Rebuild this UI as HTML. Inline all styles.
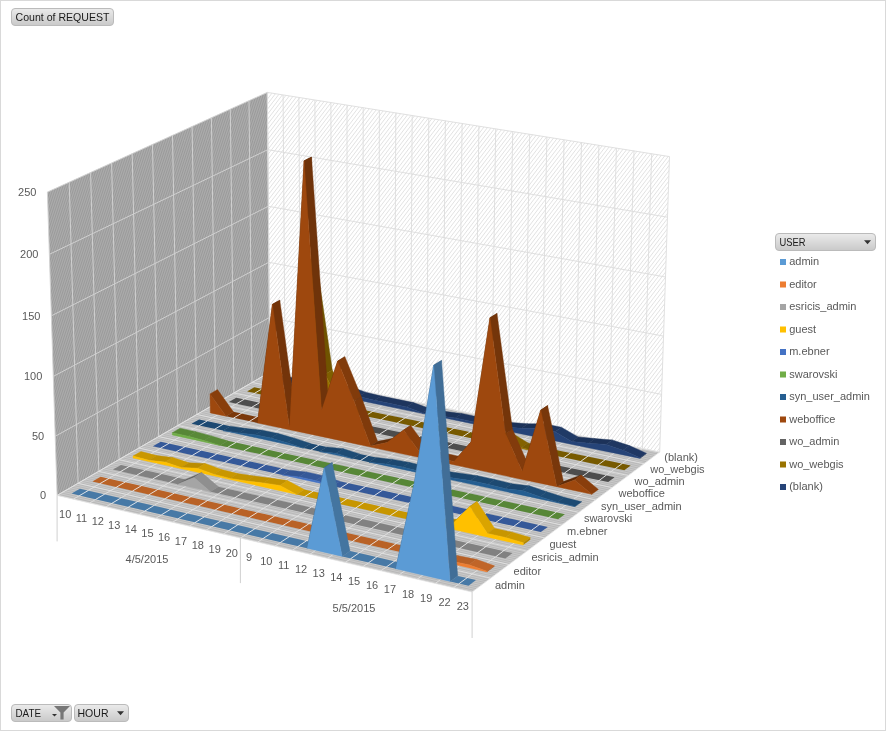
<!DOCTYPE html>
<html><head><meta charset="utf-8"><title>Count of REQUEST</title>
<style>html,body{margin:0;padding:0;background:#fff;}body{width:886px;height:731px;position:relative;overflow:hidden;font-family:"Liberation Sans",sans-serif;}</style>
</head><body>
<svg width="886" height="731" viewBox="0 0 886 731" style="position:absolute;left:0;top:0">
<defs>
<pattern id="hw" width="23.0" height="70.0" patternUnits="userSpaceOnUse"><rect width="23.0" height="70.0" fill="#ABABAB"/><path d="M-0.46,8.40 L2.76,-1.40 M-0.46,15.40 L5.06,-1.40 M-0.46,22.40 L7.36,-1.40 M-0.46,29.40 L9.66,-1.40 M-0.46,36.40 L11.96,-1.40 M-0.46,43.40 L14.26,-1.40 M-0.46,50.40 L16.56,-1.40 M-0.46,57.40 L18.86,-1.40 M-0.46,64.40 L21.16,-1.40 M-0.46,71.40 L23.46,-1.40 M-0.46,78.40 L25.76,-1.40 M-0.46,85.40 L28.06,-1.40 M-0.46,92.40 L30.36,-1.40 M-0.46,99.40 L32.66,-1.40 M-0.46,106.40 L34.96,-1.40 M-0.46,113.40 L37.26,-1.40 M-0.46,120.40 L39.56,-1.40 M-0.46,127.40 L41.86,-1.40 M-0.46,134.40 L44.16,-1.40 M-0.46,141.40 L46.46,-1.40 " stroke="#9A9A9A" stroke-width="1.0" fill="none"/></pattern>
<pattern id="hb" width="39.0" height="51.0" patternUnits="userSpaceOnUse"><rect width="39.0" height="51.0" fill="#FFFFFF"/><path d="M-0.78,6.12 L4.68,-1.02 M-0.78,11.22 L8.58,-1.02 M-0.78,16.32 L12.48,-1.02 M-0.78,21.42 L16.38,-1.02 M-0.78,26.52 L20.28,-1.02 M-0.78,31.62 L24.18,-1.02 M-0.78,36.72 L28.08,-1.02 M-0.78,41.82 L31.98,-1.02 M-0.78,46.92 L35.88,-1.02 M-0.78,52.02 L39.78,-1.02 M-0.78,57.12 L43.68,-1.02 M-0.78,62.22 L47.58,-1.02 M-0.78,67.32 L51.48,-1.02 M-0.78,72.42 L55.38,-1.02 M-0.78,77.52 L59.28,-1.02 M-0.78,82.62 L63.18,-1.02 M-0.78,87.72 L67.08,-1.02 M-0.78,92.82 L70.98,-1.02 M-0.78,97.92 L74.88,-1.02 M-0.78,103.02 L78.78,-1.02 " stroke="#DADADA" stroke-width="0.8" fill="none"/></pattern>
<pattern id="hf" width="2" height="2" patternUnits="userSpaceOnUse" patternTransform="rotate(13)"><rect width="2" height="2" fill="#C9C9C9"/><rect width="2" height="1" fill="#B8B8B8"/></pattern>
<linearGradient id="bg" x1="0" y1="0" x2="0" y2="1"><stop offset="0" stop-color="#EBEBEB"/><stop offset="0.5" stop-color="#DADADA"/><stop offset="1" stop-color="#C9C9C9"/></linearGradient>
</defs>
<polygon points="57.1,495.4 269.8,372.2 267.3,92.4 47.4,192.1" fill="url(#hw)"/>
<polygon points="269.8,372.2 659.7,452.1 669.5,156.6 267.3,92.4" fill="url(#hb)"/>
<polygon points="57.1,495.4 269.8,372.2 659.7,452.1 472.1,592.0" fill="url(#hf)"/>
<line x1="57.1" y1="495.4" x2="269.8" y2="372.2" stroke="#D2D2D2" stroke-width="0.95"/>
<line x1="269.8" y1="372.2" x2="659.7" y2="452.1" stroke="#DCDCDC" stroke-width="0.9"/>
<line x1="55.2" y1="436.3" x2="269.3" y2="317.6" stroke="#D2D2D2" stroke-width="0.95"/>
<line x1="269.3" y1="317.6" x2="661.6" y2="394.4" stroke="#DCDCDC" stroke-width="0.9"/>
<line x1="53.3" y1="376.4" x2="268.8" y2="262.3" stroke="#D2D2D2" stroke-width="0.95"/>
<line x1="268.8" y1="262.3" x2="663.5" y2="336.1" stroke="#DCDCDC" stroke-width="0.9"/>
<line x1="51.4" y1="315.8" x2="268.3" y2="206.3" stroke="#D2D2D2" stroke-width="0.95"/>
<line x1="268.3" y1="206.3" x2="665.5" y2="277.0" stroke="#DCDCDC" stroke-width="0.9"/>
<line x1="49.4" y1="254.3" x2="267.8" y2="149.7" stroke="#D2D2D2" stroke-width="0.95"/>
<line x1="267.8" y1="149.7" x2="667.5" y2="217.2" stroke="#DCDCDC" stroke-width="0.9"/>
<line x1="47.4" y1="192.1" x2="267.3" y2="92.4" stroke="#D2D2D2" stroke-width="0.95"/>
<line x1="267.3" y1="92.4" x2="669.5" y2="156.6" stroke="#DCDCDC" stroke-width="0.9"/>
<line x1="57.1" y1="495.4" x2="47.4" y2="192.1" stroke="#D2D2D2" stroke-width="0.95"/>
<line x1="57.1" y1="495.4" x2="472.1" y2="592.0" stroke="#E6E6E6" stroke-width="0.8"/>
<line x1="78.1" y1="483.3" x2="69.2" y2="182.2" stroke="#D2D2D2" stroke-width="0.95"/>
<line x1="78.1" y1="483.3" x2="490.7" y2="578.1" stroke="#E6E6E6" stroke-width="0.8"/>
<line x1="98.8" y1="471.3" x2="90.6" y2="172.5" stroke="#D2D2D2" stroke-width="0.95"/>
<line x1="98.8" y1="471.3" x2="509.0" y2="564.5" stroke="#E6E6E6" stroke-width="0.8"/>
<line x1="119.1" y1="459.6" x2="111.6" y2="163.0" stroke="#D2D2D2" stroke-width="0.95"/>
<line x1="119.1" y1="459.6" x2="526.9" y2="551.1" stroke="#E6E6E6" stroke-width="0.8"/>
<line x1="139.0" y1="448.0" x2="132.2" y2="153.6" stroke="#D2D2D2" stroke-width="0.95"/>
<line x1="139.0" y1="448.0" x2="544.6" y2="537.9" stroke="#E6E6E6" stroke-width="0.8"/>
<line x1="158.6" y1="436.6" x2="152.5" y2="144.5" stroke="#D2D2D2" stroke-width="0.95"/>
<line x1="158.6" y1="436.6" x2="561.9" y2="525.0" stroke="#E6E6E6" stroke-width="0.8"/>
<line x1="177.9" y1="425.5" x2="172.5" y2="135.4" stroke="#D2D2D2" stroke-width="0.95"/>
<line x1="177.9" y1="425.5" x2="578.9" y2="512.3" stroke="#E6E6E6" stroke-width="0.8"/>
<line x1="196.9" y1="414.5" x2="192.1" y2="126.5" stroke="#D2D2D2" stroke-width="0.95"/>
<line x1="196.9" y1="414.5" x2="595.6" y2="499.8" stroke="#E6E6E6" stroke-width="0.8"/>
<line x1="215.6" y1="403.7" x2="211.4" y2="117.8" stroke="#D2D2D2" stroke-width="0.95"/>
<line x1="215.6" y1="403.7" x2="612.1" y2="487.6" stroke="#E6E6E6" stroke-width="0.8"/>
<line x1="233.9" y1="393.0" x2="230.3" y2="109.2" stroke="#D2D2D2" stroke-width="0.95"/>
<line x1="233.9" y1="393.0" x2="628.2" y2="475.5" stroke="#E6E6E6" stroke-width="0.8"/>
<line x1="252.0" y1="382.5" x2="249.0" y2="100.8" stroke="#D2D2D2" stroke-width="0.95"/>
<line x1="252.0" y1="382.5" x2="644.1" y2="463.7" stroke="#E6E6E6" stroke-width="0.8"/>
<line x1="269.8" y1="372.2" x2="267.3" y2="92.4" stroke="#D2D2D2" stroke-width="0.95"/>
<line x1="269.8" y1="372.2" x2="659.7" y2="452.1" stroke="#E6E6E6" stroke-width="0.8"/>
<line x1="269.8" y1="372.2" x2="267.3" y2="92.4" stroke="#DCDCDC" stroke-width="0.9"/>
<line x1="57.1" y1="495.4" x2="269.8" y2="372.2" stroke="#E6E6E6" stroke-width="0.8"/>
<line x1="285.1" y1="375.4" x2="283.1" y2="95.0" stroke="#DCDCDC" stroke-width="0.9"/>
<line x1="73.3" y1="499.2" x2="285.1" y2="375.4" stroke="#E6E6E6" stroke-width="0.8"/>
<line x1="300.5" y1="378.5" x2="298.9" y2="97.5" stroke="#DCDCDC" stroke-width="0.9"/>
<line x1="89.6" y1="503.0" x2="300.5" y2="378.5" stroke="#E6E6E6" stroke-width="0.8"/>
<line x1="316.0" y1="381.7" x2="314.9" y2="100.0" stroke="#DCDCDC" stroke-width="0.9"/>
<line x1="106.0" y1="506.8" x2="316.0" y2="381.7" stroke="#E6E6E6" stroke-width="0.8"/>
<line x1="331.5" y1="384.9" x2="330.9" y2="102.6" stroke="#DCDCDC" stroke-width="0.9"/>
<line x1="122.5" y1="510.7" x2="331.5" y2="384.9" stroke="#E6E6E6" stroke-width="0.8"/>
<line x1="347.1" y1="388.1" x2="347.0" y2="105.1" stroke="#DCDCDC" stroke-width="0.9"/>
<line x1="139.1" y1="514.5" x2="347.1" y2="388.1" stroke="#E6E6E6" stroke-width="0.8"/>
<line x1="362.9" y1="391.3" x2="363.2" y2="107.7" stroke="#DCDCDC" stroke-width="0.9"/>
<line x1="155.7" y1="518.4" x2="362.9" y2="391.3" stroke="#E6E6E6" stroke-width="0.8"/>
<line x1="378.6" y1="394.5" x2="379.4" y2="110.3" stroke="#DCDCDC" stroke-width="0.9"/>
<line x1="172.5" y1="522.3" x2="378.6" y2="394.5" stroke="#E6E6E6" stroke-width="0.8"/>
<line x1="394.5" y1="397.8" x2="395.8" y2="112.9" stroke="#DCDCDC" stroke-width="0.9"/>
<line x1="189.3" y1="526.2" x2="394.5" y2="397.8" stroke="#E6E6E6" stroke-width="0.8"/>
<line x1="410.4" y1="401.0" x2="412.2" y2="115.5" stroke="#DCDCDC" stroke-width="0.9"/>
<line x1="206.2" y1="530.1" x2="410.4" y2="401.0" stroke="#E6E6E6" stroke-width="0.8"/>
<line x1="426.5" y1="404.3" x2="428.8" y2="118.2" stroke="#DCDCDC" stroke-width="0.9"/>
<line x1="223.3" y1="534.1" x2="426.5" y2="404.3" stroke="#E6E6E6" stroke-width="0.8"/>
<line x1="442.6" y1="407.6" x2="445.4" y2="120.8" stroke="#DCDCDC" stroke-width="0.9"/>
<line x1="240.4" y1="538.1" x2="442.6" y2="407.6" stroke="#E6E6E6" stroke-width="0.8"/>
<line x1="458.8" y1="410.9" x2="462.1" y2="123.5" stroke="#DCDCDC" stroke-width="0.9"/>
<line x1="257.6" y1="542.1" x2="458.8" y2="410.9" stroke="#E6E6E6" stroke-width="0.8"/>
<line x1="475.0" y1="414.3" x2="478.9" y2="126.2" stroke="#DCDCDC" stroke-width="0.9"/>
<line x1="274.9" y1="546.1" x2="475.0" y2="414.3" stroke="#E6E6E6" stroke-width="0.8"/>
<line x1="491.4" y1="417.6" x2="495.7" y2="128.9" stroke="#DCDCDC" stroke-width="0.9"/>
<line x1="292.4" y1="550.2" x2="491.4" y2="417.6" stroke="#E6E6E6" stroke-width="0.8"/>
<line x1="507.8" y1="421.0" x2="512.7" y2="131.6" stroke="#DCDCDC" stroke-width="0.9"/>
<line x1="309.9" y1="554.3" x2="507.8" y2="421.0" stroke="#E6E6E6" stroke-width="0.8"/>
<line x1="524.4" y1="424.4" x2="529.7" y2="134.3" stroke="#DCDCDC" stroke-width="0.9"/>
<line x1="327.5" y1="558.4" x2="524.4" y2="424.4" stroke="#E6E6E6" stroke-width="0.8"/>
<line x1="541.0" y1="427.8" x2="546.9" y2="137.0" stroke="#DCDCDC" stroke-width="0.9"/>
<line x1="345.2" y1="562.5" x2="541.0" y2="427.8" stroke="#E6E6E6" stroke-width="0.8"/>
<line x1="557.7" y1="431.2" x2="564.1" y2="139.8" stroke="#DCDCDC" stroke-width="0.9"/>
<line x1="363.0" y1="566.6" x2="557.7" y2="431.2" stroke="#E6E6E6" stroke-width="0.8"/>
<line x1="574.4" y1="434.6" x2="581.5" y2="142.5" stroke="#DCDCDC" stroke-width="0.9"/>
<line x1="380.9" y1="570.8" x2="574.4" y2="434.6" stroke="#E6E6E6" stroke-width="0.8"/>
<line x1="591.3" y1="438.1" x2="598.9" y2="145.3" stroke="#DCDCDC" stroke-width="0.9"/>
<line x1="399.0" y1="575.0" x2="591.3" y2="438.1" stroke="#E6E6E6" stroke-width="0.8"/>
<line x1="608.3" y1="441.5" x2="616.4" y2="148.1" stroke="#DCDCDC" stroke-width="0.9"/>
<line x1="417.1" y1="579.2" x2="608.3" y2="441.5" stroke="#E6E6E6" stroke-width="0.8"/>
<line x1="625.3" y1="445.0" x2="634.0" y2="150.9" stroke="#DCDCDC" stroke-width="0.9"/>
<line x1="435.3" y1="583.4" x2="625.3" y2="445.0" stroke="#E6E6E6" stroke-width="0.8"/>
<line x1="642.5" y1="448.5" x2="651.7" y2="153.7" stroke="#DCDCDC" stroke-width="0.9"/>
<line x1="453.6" y1="587.7" x2="642.5" y2="448.5" stroke="#E6E6E6" stroke-width="0.8"/>
<line x1="659.7" y1="452.1" x2="669.5" y2="156.6" stroke="#DCDCDC" stroke-width="0.9"/>
<line x1="472.1" y1="592.0" x2="659.7" y2="452.1" stroke="#E6E6E6" stroke-width="0.8"/>
<line x1="57.1" y1="495.4" x2="57.1" y2="541.4" stroke="#D0D0D0" stroke-width="1"/>
<line x1="240.4" y1="538.1" x2="240.4" y2="583.1" stroke="#D0D0D0" stroke-width="1"/>
<line x1="472.1" y1="592.0" x2="472.1" y2="638.0" stroke="#D0D0D0" stroke-width="1"/>
<polygon points="265.0,377.7 280.4,380.9 295.9,384.1 311.5,387.3 327.1,390.5 334.1,386.3 318.5,383.1 303.0,379.9 287.5,376.8 272.1,373.6" fill="#1E355E" stroke="#1E355E" stroke-width="0.4"/>
<polygon points="327.1,390.5 342.9,390.4 349.8,386.2 334.1,386.3" fill="#1B3156" stroke="#1B3156" stroke-width="0.4"/>
<polygon points="342.9,390.4 358.7,396.5 365.6,392.2 349.8,386.2" fill="#1F3862" stroke="#1F3862" stroke-width="0.4"/>
<polygon points="358.7,396.5 374.6,400.3 381.4,396.0 365.6,392.2" fill="#1E365F" stroke="#1E365F" stroke-width="0.4"/>
<polygon points="374.6,400.3 390.5,403.6 406.6,406.9 413.4,402.6 397.4,399.3 381.4,396.0" fill="#1E355E" stroke="#1E355E" stroke-width="0.4"/>
<polygon points="406.6,406.9 422.7,413.0 429.5,408.6 413.4,402.6" fill="#1F3862" stroke="#1F3862" stroke-width="0.4"/>
<polygon points="422.7,413.0 438.9,415.8 445.7,411.4 429.5,408.6" fill="#1D345C" stroke="#1D345C" stroke-width="0.4"/>
<polygon points="438.9,415.8 455.2,418.0 461.9,413.6 445.7,411.4" fill="#1D345B" stroke="#1D345B" stroke-width="0.4"/>
<polygon points="455.2,418.0 471.6,421.4 488.1,424.8 494.7,420.3 478.3,417.0 461.9,413.6" fill="#1E355E" stroke="#1E355E" stroke-width="0.4"/>
<polygon points="488.1,424.8 504.7,427.0 511.2,422.6 494.7,420.3" fill="#1D345B" stroke="#1D345B" stroke-width="0.4"/>
<polygon points="504.7,427.0 521.3,428.2 527.9,423.7 511.2,422.6" fill="#1C3259" stroke="#1C3259" stroke-width="0.4"/>
<polygon points="521.3,428.2 538.1,428.2 544.6,423.8 527.9,423.7" fill="#1B3156" stroke="#1B3156" stroke-width="0.4"/>
<polygon points="538.1,428.2 555.0,431.7 561.4,427.2 544.6,423.8" fill="#1E355E" stroke="#1E355E" stroke-width="0.4"/>
<polygon points="555.0,431.7 571.7,441.4 578.1,436.9 561.4,427.2" fill="#203A66" stroke="#203A66" stroke-width="0.4"/>
<polygon points="571.7,441.4 588.8,443.2 595.1,438.6 578.1,436.9" fill="#1C335A" stroke="#1C335A" stroke-width="0.4"/>
<polygon points="588.8,443.2 605.9,444.4 612.3,439.9 595.1,438.6" fill="#1C3259" stroke="#1C3259" stroke-width="0.4"/>
<polygon points="605.9,444.4 623.0,450.3 629.3,445.6 612.3,439.9" fill="#1F3761" stroke="#1F3761" stroke-width="0.4"/>
<polygon points="623.0,450.3 640.1,457.8 646.4,453.2 629.3,445.6" fill="#203864" stroke="#203864" stroke-width="0.4"/>
<polygon points="640.1,458.4 646.4,453.8 646.4,453.2 640.1,457.8" fill="#1B3054"/>
<polygon points="265.0,377.7 280.4,380.9 295.9,384.1 311.5,387.3 327.1,390.5 342.9,390.4 358.7,396.5 374.6,400.3 390.5,403.6 406.6,406.9 422.7,413.0 438.9,415.8 455.2,418.0 471.6,421.4 488.1,424.8 504.7,427.0 521.3,428.2 538.1,428.2 555.0,431.7 571.7,441.4 588.8,443.2 605.9,444.4 623.0,450.3 640.1,457.8 640.1,458.4 265.0,381.0" fill="#264478" stroke="#264478" stroke-width="0.4" stroke-linejoin="round"/>
<polygon points="247.1,391.5 262.6,394.7 278.2,397.9 285.3,393.7 269.8,390.5 254.3,387.3" fill="#775A00"/>
<polygon points="278.2,397.9 293.8,397.9 300.9,393.6 285.3,393.7" fill="#6E5200" stroke="#6E5200" stroke-width="0.4"/>
<polygon points="293.8,397.9 308.9,262.5 316.1,258.6 300.9,393.6" fill="#543F00" stroke="#543F00" stroke-width="0.4"/>
<polygon points="308.9,262.5 325.2,374.3 332.3,370.1 316.1,258.6" fill="#705400" stroke="#705400" stroke-width="0.4"/>
<polygon points="325.2,374.3 341.2,407.8 348.2,403.4 332.3,370.1" fill="#7F5F00" stroke="#7F5F00" stroke-width="0.4"/>
<polygon points="341.2,407.8 357.2,414.4 364.2,410.1 348.2,403.4" fill="#7E5F00" stroke="#7E5F00" stroke-width="0.4"/>
<polygon points="357.2,414.4 373.2,417.8 389.4,421.1 405.6,424.5 421.9,427.9 438.3,431.3 454.7,434.8 471.3,438.2 478.0,433.7 461.5,430.3 445.1,426.9 428.7,423.5 412.5,420.1 396.3,416.8 380.2,413.4 364.2,410.1" fill="#775A00"/>
<polygon points="471.3,438.2 488.0,437.2 494.7,432.6 478.0,433.7" fill="#6A5000" stroke="#6A5000" stroke-width="0.4"/>
<polygon points="488.0,437.2 504.8,437.2 511.5,432.7 494.7,432.6" fill="#6E5200" stroke="#6E5200" stroke-width="0.4"/>
<polygon points="504.8,437.2 521.5,447.6 528.1,443.0 511.5,432.7" fill="#836200" stroke="#836200" stroke-width="0.4"/>
<polygon points="521.5,447.6 538.4,452.2 545.0,447.6 528.1,443.0" fill="#7A5C00" stroke="#7A5C00" stroke-width="0.4"/>
<polygon points="538.4,452.2 555.4,455.8 572.5,459.3 589.7,462.9 606.9,466.5 624.3,470.2 630.7,465.4 613.3,461.8 596.1,458.3 579.0,454.7 561.9,451.2 545.0,447.6" fill="#775A00"/>
<line x1="254.5" y1="393.3" x2="262.4" y2="388.7" stroke="#EDEDED" stroke-width="0.9"/>
<line x1="270.0" y1="396.5" x2="277.9" y2="391.9" stroke="#EDEDED" stroke-width="0.9"/>
<line x1="364.9" y1="416.3" x2="372.5" y2="411.5" stroke="#EDEDED" stroke-width="0.9"/>
<line x1="381.0" y1="419.7" x2="388.6" y2="414.9" stroke="#EDEDED" stroke-width="0.9"/>
<line x1="397.1" y1="423.1" x2="404.7" y2="418.2" stroke="#EDEDED" stroke-width="0.9"/>
<line x1="413.4" y1="426.4" x2="420.9" y2="421.6" stroke="#EDEDED" stroke-width="0.9"/>
<line x1="429.7" y1="429.9" x2="437.2" y2="425.0" stroke="#EDEDED" stroke-width="0.9"/>
<line x1="446.2" y1="433.3" x2="453.6" y2="428.4" stroke="#EDEDED" stroke-width="0.9"/>
<line x1="462.7" y1="436.7" x2="470.1" y2="431.8" stroke="#EDEDED" stroke-width="0.9"/>
<line x1="546.6" y1="454.2" x2="553.8" y2="449.2" stroke="#EDEDED" stroke-width="0.9"/>
<line x1="563.6" y1="457.8" x2="570.8" y2="452.7" stroke="#EDEDED" stroke-width="0.9"/>
<line x1="580.7" y1="461.4" x2="587.9" y2="456.2" stroke="#EDEDED" stroke-width="0.9"/>
<line x1="598.0" y1="465.0" x2="605.0" y2="459.8" stroke="#EDEDED" stroke-width="0.9"/>
<line x1="615.3" y1="468.6" x2="622.3" y2="463.4" stroke="#EDEDED" stroke-width="0.9"/>
<polygon points="278.2,397.9 293.8,397.9 308.9,262.5 325.2,374.3 341.2,407.8 357.2,414.4 357.2,414.4 278.2,397.9" fill="#997300" stroke="#997300" stroke-width="0.4" stroke-linejoin="round"/>
<polygon points="471.3,438.2 488.0,437.2 504.8,437.2 521.5,447.6 538.4,452.2 538.4,452.2 471.3,438.2" fill="#997300" stroke="#997300" stroke-width="0.4" stroke-linejoin="round"/>
<polygon points="228.9,402.1 244.4,405.4 260.1,408.7 275.8,412.0 291.6,415.3 307.5,418.7 323.5,422.0 339.5,425.4 355.7,428.8 371.9,432.3 388.2,435.7 404.6,439.2 421.1,442.6 437.6,446.1 454.3,449.6 471.0,453.2 487.8,456.7 504.8,460.3 521.8,463.9 538.9,467.5 556.1,471.1 573.3,474.8 590.7,478.4 608.2,482.1 614.6,477.3 597.2,473.6 579.9,470.0 562.7,466.4 545.5,462.8 528.5,459.2 511.5,455.6 494.6,452.1 477.8,448.6 461.1,445.1 444.5,441.6 428.0,438.1 411.5,434.6 395.2,431.2 378.9,427.8 362.7,424.4 346.6,421.0 330.6,417.6 314.7,414.3 298.8,411.0 283.0,407.7 267.3,404.4 251.7,401.1 236.2,397.8" fill="#4D4D4D"/>
<line x1="236.3" y1="403.9" x2="244.3" y2="399.2" stroke="#EDEDED" stroke-width="0.9"/>
<line x1="251.9" y1="407.2" x2="259.9" y2="402.5" stroke="#EDEDED" stroke-width="0.9"/>
<line x1="267.6" y1="410.5" x2="275.5" y2="405.8" stroke="#EDEDED" stroke-width="0.9"/>
<line x1="283.3" y1="413.9" x2="291.3" y2="409.1" stroke="#EDEDED" stroke-width="0.9"/>
<line x1="299.2" y1="417.2" x2="307.1" y2="412.4" stroke="#EDEDED" stroke-width="0.9"/>
<line x1="315.1" y1="420.6" x2="323.0" y2="415.7" stroke="#EDEDED" stroke-width="0.9"/>
<line x1="331.1" y1="424.0" x2="339.0" y2="419.1" stroke="#EDEDED" stroke-width="0.9"/>
<line x1="347.2" y1="427.4" x2="355.0" y2="422.5" stroke="#EDEDED" stroke-width="0.9"/>
<line x1="363.4" y1="430.8" x2="371.2" y2="425.9" stroke="#EDEDED" stroke-width="0.9"/>
<line x1="379.7" y1="434.2" x2="387.4" y2="429.3" stroke="#EDEDED" stroke-width="0.9"/>
<line x1="396.0" y1="437.6" x2="403.7" y2="432.7" stroke="#EDEDED" stroke-width="0.9"/>
<line x1="412.5" y1="441.1" x2="420.1" y2="436.1" stroke="#EDEDED" stroke-width="0.9"/>
<line x1="429.0" y1="444.6" x2="436.6" y2="439.6" stroke="#EDEDED" stroke-width="0.9"/>
<line x1="445.6" y1="448.1" x2="453.2" y2="443.1" stroke="#EDEDED" stroke-width="0.9"/>
<line x1="462.3" y1="451.6" x2="469.8" y2="446.6" stroke="#EDEDED" stroke-width="0.9"/>
<line x1="479.1" y1="455.2" x2="486.5" y2="450.1" stroke="#EDEDED" stroke-width="0.9"/>
<line x1="496.0" y1="458.7" x2="503.4" y2="453.6" stroke="#EDEDED" stroke-width="0.9"/>
<line x1="512.9" y1="462.3" x2="520.3" y2="457.2" stroke="#EDEDED" stroke-width="0.9"/>
<line x1="530.0" y1="465.9" x2="537.3" y2="460.7" stroke="#EDEDED" stroke-width="0.9"/>
<line x1="547.1" y1="469.5" x2="554.4" y2="464.3" stroke="#EDEDED" stroke-width="0.9"/>
<line x1="564.3" y1="473.2" x2="571.6" y2="467.9" stroke="#EDEDED" stroke-width="0.9"/>
<line x1="581.7" y1="476.8" x2="588.9" y2="471.6" stroke="#EDEDED" stroke-width="0.9"/>
<line x1="599.1" y1="480.5" x2="606.2" y2="475.2" stroke="#EDEDED" stroke-width="0.9"/>
<polygon points="210.0,393.9 226.0,416.2 233.4,411.8 217.5,389.6" fill="#883E0C" stroke="#883E0C" stroke-width="0.4"/>
<polygon points="226.0,416.2 241.7,419.6 257.5,422.9 264.9,418.5 249.1,415.2 233.4,411.8" fill="#7B380B"/>
<polygon points="257.5,422.9 272.4,304.3 279.8,300.2 264.9,418.5" fill="#572808" stroke="#572808" stroke-width="0.4"/>
<polygon points="272.4,304.3 289.4,427.5 296.7,423.0 279.8,300.2" fill="#73340A" stroke="#73340A" stroke-width="0.4"/>
<polygon points="289.4,427.5 304.1,160.8 311.5,157.1 296.7,423.0" fill="#572808" stroke="#572808" stroke-width="0.4"/>
<polygon points="304.1,160.8 321.5,410.5 328.7,406.0 311.5,157.1" fill="#6F330A" stroke="#6F330A" stroke-width="0.4"/>
<polygon points="321.5,410.5 337.7,361.0 344.9,356.7 328.7,406.0" fill="#572808" stroke="#572808" stroke-width="0.4"/>
<polygon points="337.7,361.0 354.1,401.2 361.3,396.8 344.9,356.7" fill="#813B0B" stroke="#813B0B" stroke-width="0.4"/>
<polygon points="354.1,401.2 370.5,445.9 377.6,441.3 361.3,396.8" fill="#7F3A0B" stroke="#7F3A0B" stroke-width="0.4"/>
<polygon points="370.5,445.9 387.0,442.6 394.1,438.0 377.6,441.3" fill="#662F09" stroke="#662F09" stroke-width="0.4"/>
<polygon points="387.0,442.6 403.7,430.0 410.8,425.4 394.1,438.0" fill="#572808" stroke="#572808" stroke-width="0.4"/>
<polygon points="403.7,430.0 420.3,453.1 427.3,448.4 410.8,425.4" fill="#883E0C" stroke="#883E0C" stroke-width="0.4"/>
<polygon points="420.3,453.1 437.0,457.8 444.0,453.1 427.3,448.4" fill="#7E390B" stroke="#7E390B" stroke-width="0.4"/>
<polygon points="437.0,457.8 453.8,461.4 460.8,456.7 444.0,453.1" fill="#7B380B" stroke="#7B380B" stroke-width="0.4"/>
<polygon points="453.8,461.4 471.1,441.8 490.0,317.7 497.0,313.4 478.0,437.1 460.8,456.7" fill="#572808" stroke="#572808" stroke-width="0.4"/>
<polygon points="490.0,317.7 505.5,433.7 512.4,429.1 497.0,313.4" fill="#74350A" stroke="#74350A" stroke-width="0.4"/>
<polygon points="505.5,433.7 522.2,471.2 529.0,466.5 512.4,429.1" fill="#823B0C" stroke="#823B0C" stroke-width="0.4"/>
<polygon points="522.2,471.2 540.8,410.1 547.6,405.5 529.0,466.5" fill="#572808" stroke="#572808" stroke-width="0.4"/>
<polygon points="540.8,410.1 556.7,486.4 563.4,481.6 547.6,405.5" fill="#78370B" stroke="#78370B" stroke-width="0.4"/>
<polygon points="556.7,486.4 574.5,479.9 581.1,475.1 563.4,481.6" fill="#5D2A08" stroke="#5D2A08" stroke-width="0.4"/>
<polygon points="574.5,479.9 591.8,494.3 598.4,489.4 581.1,475.1" fill="#893E0C" stroke="#893E0C" stroke-width="0.4"/>
<line x1="233.5" y1="418.1" x2="241.6" y2="413.3" stroke="#EDEDED" stroke-width="0.9"/>
<line x1="249.2" y1="421.5" x2="257.3" y2="416.6" stroke="#EDEDED" stroke-width="0.9"/>
<polygon points="210.0,393.9 226.0,416.2 226.0,416.2 210.3,412.9" fill="#9E480E" stroke="#9E480E" stroke-width="0.4" stroke-linejoin="round"/>
<polygon points="257.5,422.9 272.4,304.3 289.4,427.5 304.1,160.8 321.5,410.5 337.7,361.0 354.1,401.2 370.5,445.9 387.0,442.6 403.7,430.0 420.3,453.1 437.0,457.8 453.8,461.4 471.1,441.8 490.0,317.7 505.5,433.7 522.2,471.2 540.8,410.1 556.7,486.4 574.5,479.9 591.8,494.3 591.8,494.3 257.5,422.9" fill="#9E480E" stroke="#9E480E" stroke-width="0.4" stroke-linejoin="round"/>
<polygon points="191.5,423.8 207.2,427.2 223.0,430.6 230.5,426.2 214.7,422.8 199.1,419.4" fill="#1D4971"/>
<polygon points="223.0,430.6 238.9,432.9 246.4,428.5 230.5,426.2" fill="#1C476E" stroke="#1C476E" stroke-width="0.4"/>
<polygon points="238.9,432.9 254.9,434.7 262.3,430.2 246.4,428.5" fill="#1C466D" stroke="#1C466D" stroke-width="0.4"/>
<polygon points="254.9,434.7 270.9,438.1 278.3,433.6 262.3,430.2" fill="#1D4971" stroke="#1D4971" stroke-width="0.4"/>
<polygon points="270.9,438.1 287.1,442.8 294.5,438.2 278.3,433.6" fill="#1D4B74" stroke="#1D4B74" stroke-width="0.4"/>
<polygon points="287.1,442.8 303.3,448.0 310.7,443.4 294.5,438.2" fill="#1E4C75" stroke="#1E4C75" stroke-width="0.4"/>
<polygon points="303.3,448.0 319.6,451.5 326.9,446.9 310.7,443.4" fill="#1D4971"/>
<polygon points="319.6,451.5 336.0,453.3 343.3,448.7 326.9,446.9" fill="#1C466D" stroke="#1C466D" stroke-width="0.4"/>
<polygon points="336.0,453.3 352.5,458.6 359.8,454.0 343.3,448.7" fill="#1E4C75" stroke="#1E4C75" stroke-width="0.4"/>
<polygon points="352.5,458.6 369.1,462.2 376.3,457.5 359.8,454.0" fill="#1D4971"/>
<polygon points="369.1,462.2 385.8,464.0 392.9,459.4 376.3,457.5" fill="#1C466D" stroke="#1C466D" stroke-width="0.4"/>
<polygon points="385.8,464.0 402.5,467.1 409.7,462.4 392.9,459.4" fill="#1C4870" stroke="#1C4870" stroke-width="0.4"/>
<polygon points="402.5,467.1 419.4,471.3 436.3,475.5 443.3,470.8 426.5,466.5 409.7,462.4" fill="#1D4A72" stroke="#1D4A72" stroke-width="0.4"/>
<polygon points="436.3,475.5 453.3,478.0 470.5,480.5 477.4,475.7 460.3,473.2 443.3,470.8" fill="#1C476E" stroke="#1C476E" stroke-width="0.4"/>
<polygon points="470.5,480.5 487.7,484.2 494.6,479.4 477.4,475.7" fill="#1D4971" stroke="#1D4971" stroke-width="0.4"/>
<polygon points="487.7,484.2 505.0,488.6 511.9,483.7 494.6,479.4" fill="#1D4A72" stroke="#1D4A72" stroke-width="0.4"/>
<polygon points="505.0,488.6 522.4,490.5 529.3,485.7 511.9,483.7" fill="#1C466D" stroke="#1C466D" stroke-width="0.4"/>
<polygon points="522.4,490.5 539.9,496.7 546.7,491.7 529.3,485.7" fill="#1E4C76" stroke="#1E4C76" stroke-width="0.4"/>
<polygon points="539.9,496.7 557.4,502.2 564.2,497.3 546.7,491.7" fill="#1E4C75" stroke="#1E4C75" stroke-width="0.4"/>
<polygon points="557.4,502.2 575.1,506.6 581.8,501.7 564.2,497.3" fill="#1D4A72" stroke="#1D4A72" stroke-width="0.4"/>
<line x1="199.0" y1="425.8" x2="207.3" y2="420.9" stroke="#EDEDED" stroke-width="0.9"/>
<line x1="214.7" y1="429.2" x2="223.0" y2="424.3" stroke="#EDEDED" stroke-width="0.9"/>
<line x1="311.1" y1="450.0" x2="319.2" y2="444.9" stroke="#EDEDED" stroke-width="0.9"/>
<line x1="360.4" y1="460.6" x2="368.4" y2="455.5" stroke="#EDEDED" stroke-width="0.9"/>
<polygon points="223.0,430.6 238.9,432.9 254.9,434.7 270.9,438.1 287.1,442.8 303.3,448.0 303.3,448.0 223.0,430.6" fill="#255E91" stroke="#255E91" stroke-width="0.4" stroke-linejoin="round"/>
<polygon points="319.6,451.5 336.0,453.3 352.5,458.6 352.5,458.6 319.6,451.5" fill="#255E91" stroke="#255E91" stroke-width="0.4" stroke-linejoin="round"/>
<polygon points="369.1,462.2 385.8,464.0 402.5,467.1 419.4,471.3 436.3,475.5 453.3,478.0 470.5,480.5 487.7,484.2 505.0,488.6 522.4,490.5 539.9,496.7 557.4,502.2 575.1,506.6 575.1,506.6 369.1,462.2" fill="#255E91" stroke="#255E91" stroke-width="0.4" stroke-linejoin="round"/>
<polygon points="172.3,432.7 188.1,436.2 195.8,431.7 180.0,428.2" fill="#578737" stroke="#578737" stroke-width="0.4"/>
<polygon points="188.1,436.2 204.0,440.5 211.6,436.0 195.8,431.7" fill="#598938" stroke="#598938" stroke-width="0.4"/>
<polygon points="204.0,440.5 220.0,445.4 227.6,440.8 211.6,436.0" fill="#5A8A39" stroke="#5A8A39" stroke-width="0.4"/>
<polygon points="220.0,445.4 236.1,448.9 252.2,452.4 268.4,456.0 284.8,459.5 301.2,463.1 317.7,466.7 334.2,470.3 350.9,474.0 367.7,477.6 384.5,481.3 401.4,485.0 418.5,488.7 435.6,492.5 452.8,496.2 470.1,500.0 487.5,503.8 505.0,507.6 522.6,511.5 540.3,515.3 558.1,519.2 564.9,514.2 547.2,510.3 529.5,506.5 512.0,502.7 494.5,498.9 477.2,495.1 459.9,491.3 442.7,487.6 425.6,483.9 408.7,480.2 391.8,476.5 374.9,472.9 358.2,469.2 341.6,465.6 325.0,462.0 308.6,458.4 292.2,454.9 275.9,451.4 259.7,447.8 243.6,444.3 227.6,440.8" fill="#578737"/>
<line x1="227.6" y1="447.4" x2="236.0" y2="442.4" stroke="#EDEDED" stroke-width="0.9"/>
<line x1="243.8" y1="450.9" x2="252.1" y2="445.9" stroke="#EDEDED" stroke-width="0.9"/>
<line x1="259.9" y1="454.4" x2="268.2" y2="449.4" stroke="#EDEDED" stroke-width="0.9"/>
<line x1="276.2" y1="458.0" x2="284.4" y2="452.9" stroke="#EDEDED" stroke-width="0.9"/>
<line x1="292.6" y1="461.6" x2="300.8" y2="456.4" stroke="#EDEDED" stroke-width="0.9"/>
<line x1="309.0" y1="465.2" x2="317.2" y2="460.0" stroke="#EDEDED" stroke-width="0.9"/>
<line x1="325.6" y1="468.8" x2="333.7" y2="463.6" stroke="#EDEDED" stroke-width="0.9"/>
<line x1="342.2" y1="472.4" x2="350.3" y2="467.2" stroke="#EDEDED" stroke-width="0.9"/>
<line x1="358.9" y1="476.0" x2="366.9" y2="470.8" stroke="#EDEDED" stroke-width="0.9"/>
<line x1="375.7" y1="479.7" x2="383.7" y2="474.5" stroke="#EDEDED" stroke-width="0.9"/>
<line x1="392.6" y1="483.4" x2="400.5" y2="478.1" stroke="#EDEDED" stroke-width="0.9"/>
<line x1="409.6" y1="487.1" x2="417.5" y2="481.8" stroke="#EDEDED" stroke-width="0.9"/>
<line x1="426.7" y1="490.8" x2="434.5" y2="485.5" stroke="#EDEDED" stroke-width="0.9"/>
<line x1="443.8" y1="494.6" x2="451.7" y2="489.2" stroke="#EDEDED" stroke-width="0.9"/>
<line x1="461.1" y1="498.4" x2="468.9" y2="493.0" stroke="#EDEDED" stroke-width="0.9"/>
<line x1="478.5" y1="502.2" x2="486.2" y2="496.7" stroke="#EDEDED" stroke-width="0.9"/>
<line x1="495.9" y1="506.0" x2="503.6" y2="500.5" stroke="#EDEDED" stroke-width="0.9"/>
<line x1="513.5" y1="509.8" x2="521.1" y2="504.3" stroke="#EDEDED" stroke-width="0.9"/>
<line x1="531.1" y1="513.7" x2="538.7" y2="508.1" stroke="#EDEDED" stroke-width="0.9"/>
<line x1="548.9" y1="517.5" x2="556.4" y2="512.0" stroke="#EDEDED" stroke-width="0.9"/>
<polygon points="172.3,432.7 188.1,436.2 204.0,440.5 220.0,445.4 220.0,445.4 172.3,435.0" fill="#70AD47" stroke="#70AD47" stroke-width="0.4" stroke-linejoin="round"/>
<polygon points="152.8,446.3 168.7,449.8 184.7,453.4 200.8,456.9 216.9,460.5 233.2,464.1 249.5,467.7 265.9,471.3 282.4,474.9 289.9,470.2 273.5,466.6 257.1,463.0 240.8,459.4 224.6,455.8 208.5,452.3 192.5,448.8 176.5,445.3 160.7,441.8" fill="#355999"/>
<polygon points="282.4,474.9 298.9,476.9 306.5,472.1 289.9,470.2" fill="#335593" stroke="#335593" stroke-width="0.4"/>
<polygon points="298.9,476.9 315.6,480.5 323.1,475.7 306.5,472.1" fill="#355999" stroke="#355999" stroke-width="0.4"/>
<polygon points="315.6,480.5 332.4,486.0 339.8,481.2 323.1,475.7" fill="#375C9E" stroke="#375C9E" stroke-width="0.4"/>
<polygon points="332.4,486.0 349.2,489.7 366.2,493.5 383.2,497.2 400.4,501.0 417.6,504.8 434.9,508.6 452.3,512.5 469.8,516.4 487.4,520.2 505.1,524.2 522.9,528.1 540.8,532.0 547.8,526.9 529.9,523.0 512.2,519.1 494.5,515.2 476.9,511.3 459.5,507.5 442.1,503.6 424.8,499.9 407.6,496.1 390.6,492.3 373.6,488.6 356.6,484.9 339.8,481.2" fill="#355999"/>
<line x1="160.4" y1="448.3" x2="169.0" y2="443.3" stroke="#EDEDED" stroke-width="0.9"/>
<line x1="176.3" y1="451.8" x2="184.9" y2="446.8" stroke="#EDEDED" stroke-width="0.9"/>
<line x1="192.3" y1="455.4" x2="200.9" y2="450.3" stroke="#EDEDED" stroke-width="0.9"/>
<line x1="208.5" y1="458.9" x2="216.9" y2="453.8" stroke="#EDEDED" stroke-width="0.9"/>
<line x1="224.6" y1="462.5" x2="233.1" y2="457.4" stroke="#EDEDED" stroke-width="0.9"/>
<line x1="240.9" y1="466.1" x2="249.3" y2="460.9" stroke="#EDEDED" stroke-width="0.9"/>
<line x1="257.3" y1="469.7" x2="265.7" y2="464.5" stroke="#EDEDED" stroke-width="0.9"/>
<line x1="273.7" y1="473.4" x2="282.1" y2="468.1" stroke="#EDEDED" stroke-width="0.9"/>
<line x1="340.4" y1="488.1" x2="348.6" y2="482.8" stroke="#EDEDED" stroke-width="0.9"/>
<line x1="357.3" y1="491.8" x2="365.5" y2="486.5" stroke="#EDEDED" stroke-width="0.9"/>
<line x1="374.3" y1="495.6" x2="382.4" y2="490.2" stroke="#EDEDED" stroke-width="0.9"/>
<line x1="391.4" y1="499.4" x2="399.4" y2="493.9" stroke="#EDEDED" stroke-width="0.9"/>
<line x1="408.6" y1="503.2" x2="416.6" y2="497.7" stroke="#EDEDED" stroke-width="0.9"/>
<line x1="425.9" y1="507.0" x2="433.8" y2="501.5" stroke="#EDEDED" stroke-width="0.9"/>
<line x1="443.2" y1="510.8" x2="451.1" y2="505.3" stroke="#EDEDED" stroke-width="0.9"/>
<line x1="460.7" y1="514.7" x2="468.5" y2="509.1" stroke="#EDEDED" stroke-width="0.9"/>
<line x1="478.2" y1="518.5" x2="486.1" y2="513.0" stroke="#EDEDED" stroke-width="0.9"/>
<line x1="495.9" y1="522.4" x2="503.7" y2="516.9" stroke="#EDEDED" stroke-width="0.9"/>
<line x1="513.7" y1="526.4" x2="521.4" y2="520.7" stroke="#EDEDED" stroke-width="0.9"/>
<line x1="531.5" y1="530.3" x2="539.2" y2="524.7" stroke="#EDEDED" stroke-width="0.9"/>
<polygon points="282.4,474.9 298.9,476.9 315.6,480.5 332.4,486.0 332.4,486.0 282.4,474.9" fill="#4472C4" stroke="#4472C4" stroke-width="0.4" stroke-linejoin="round"/>
<polygon points="133.0,456.1 149.0,460.3 156.9,455.6 141.0,451.5" fill="#C99700" stroke="#C99700" stroke-width="0.4"/>
<polygon points="149.0,460.3 165.0,462.1 172.9,457.5 156.9,455.6" fill="#BF9000" stroke="#BF9000" stroke-width="0.4"/>
<polygon points="165.0,462.1 181.2,467.5 189.1,462.8 172.9,457.5" fill="#CD9A00" stroke="#CD9A00" stroke-width="0.4"/>
<polygon points="181.2,467.5 197.4,468.2 205.2,463.5 189.1,462.8" fill="#BA8C00" stroke="#BA8C00" stroke-width="0.4"/>
<polygon points="197.4,468.2 213.7,474.2 221.5,469.4 205.2,463.5" fill="#CF9C00" stroke="#CF9C00" stroke-width="0.4"/>
<polygon points="213.7,474.2 230.2,478.4 237.9,473.6 221.5,469.4" fill="#C99700" stroke="#C99700" stroke-width="0.4"/>
<polygon points="230.2,478.4 246.6,480.9 254.4,476.1 237.9,473.6" fill="#C29200" stroke="#C29200" stroke-width="0.4"/>
<polygon points="246.6,480.9 263.2,482.9 270.9,478.0 254.4,476.1" fill="#BF9000" stroke="#BF9000" stroke-width="0.4"/>
<polygon points="263.2,482.9 279.9,485.4 287.5,480.6 270.9,478.0" fill="#C29200" stroke="#C29200" stroke-width="0.4"/>
<polygon points="279.9,485.4 296.7,494.4 304.3,489.6 287.5,480.6" fill="#D7A200" stroke="#D7A200" stroke-width="0.4"/>
<polygon points="296.7,494.4 313.6,498.2 330.5,502.0 347.5,505.8 364.7,509.6 381.9,513.5 399.2,517.4 416.7,521.3 424.0,516.2 406.6,512.3 389.3,508.5 372.1,504.6 355.0,500.8 338.0,497.1 321.1,493.3 304.3,489.6" fill="#C79600"/>
<polygon points="416.7,521.3 434.2,524.0 441.5,518.9 424.0,516.2" fill="#C29200" stroke="#C29200" stroke-width="0.4"/>
<polygon points="434.2,524.0 451.8,524.3 459.1,519.2 441.5,518.9" fill="#B78A00" stroke="#B78A00" stroke-width="0.4"/>
<polygon points="451.8,524.3 469.8,506.5 477.1,501.5 459.1,519.2" fill="#8C6A00" stroke="#8C6A00" stroke-width="0.4"/>
<polygon points="469.8,506.5 487.4,533.4 494.5,528.3 477.1,501.5" fill="#DAA400" stroke="#DAA400" stroke-width="0.4"/>
<polygon points="487.4,533.4 505.3,537.4 512.4,532.2 494.5,528.3" fill="#C79600" stroke="#C79600" stroke-width="0.4"/>
<polygon points="505.3,537.4 523.3,542.7 530.3,537.4 512.4,532.2" fill="#CB9900" stroke="#CB9900" stroke-width="0.4"/>
<line x1="304.7" y1="496.6" x2="313.1" y2="491.2" stroke="#EDEDED" stroke-width="0.9"/>
<line x1="321.6" y1="500.4" x2="329.9" y2="494.9" stroke="#EDEDED" stroke-width="0.9"/>
<line x1="338.6" y1="504.2" x2="346.9" y2="498.7" stroke="#EDEDED" stroke-width="0.9"/>
<line x1="355.7" y1="508.0" x2="363.9" y2="502.5" stroke="#EDEDED" stroke-width="0.9"/>
<line x1="372.9" y1="511.8" x2="381.1" y2="506.3" stroke="#EDEDED" stroke-width="0.9"/>
<line x1="390.2" y1="515.7" x2="398.3" y2="510.1" stroke="#EDEDED" stroke-width="0.9"/>
<line x1="407.6" y1="519.6" x2="415.7" y2="514.0" stroke="#EDEDED" stroke-width="0.9"/>
<polygon points="523.2,545.1 530.3,539.8 530.3,537.4 523.3,542.7" fill="#B28600"/>
<polygon points="133.0,456.1 149.0,460.3 165.0,462.1 181.2,467.5 197.4,468.2 213.7,474.2 230.2,478.4 246.6,480.9 263.2,482.9 279.9,485.4 296.7,494.4 296.7,494.4 133.0,457.9" fill="#FFC000" stroke="#FFC000" stroke-width="0.4" stroke-linejoin="round"/>
<polygon points="416.7,521.3 434.2,524.0 451.8,524.3 469.8,506.5 487.4,533.4 505.3,537.4 523.3,542.7 523.2,545.1 416.7,521.3" fill="#FFC000" stroke="#FFC000" stroke-width="0.4" stroke-linejoin="round"/>
<polygon points="112.9,469.6 128.9,473.2 145.1,476.9 161.3,480.5 177.6,484.2 185.6,479.4 169.3,475.7 153.1,472.1 137.0,468.5 121.0,464.9" fill="#818181"/>
<polygon points="177.6,484.2 193.9,477.4 201.8,472.6 185.6,479.4" fill="#606060" stroke="#606060" stroke-width="0.4"/>
<polygon points="193.9,477.4 210.5,491.7 218.4,486.8 201.8,472.6" fill="#8F8F8F" stroke="#8F8F8F" stroke-width="0.4"/>
<polygon points="210.5,491.7 227.1,495.4 243.8,499.2 260.6,503.0 277.4,506.8 294.4,510.6 311.4,514.5 328.6,518.4 345.8,522.3 363.1,526.2 380.6,530.1 398.1,534.1 415.7,538.1 433.4,542.1 451.2,546.1 469.2,550.2 487.2,554.3 505.3,558.4 512.5,553.0 494.4,549.0 476.5,544.9 458.6,540.9 440.8,536.9 423.1,532.9 405.6,528.9 388.1,525.0 370.7,521.1 353.4,517.2 336.2,513.3 319.1,509.5 302.1,505.6 285.2,501.8 268.4,498.0 251.6,494.3 235.0,490.5 218.4,486.8" fill="#818181"/>
<line x1="120.5" y1="471.6" x2="129.4" y2="466.4" stroke="#EDEDED" stroke-width="0.9"/>
<line x1="136.6" y1="475.3" x2="145.5" y2="470.0" stroke="#EDEDED" stroke-width="0.9"/>
<line x1="152.8" y1="478.9" x2="161.6" y2="473.7" stroke="#EDEDED" stroke-width="0.9"/>
<line x1="169.1" y1="482.6" x2="177.9" y2="477.3" stroke="#EDEDED" stroke-width="0.9"/>
<line x1="218.4" y1="493.8" x2="227.1" y2="488.4" stroke="#EDEDED" stroke-width="0.9"/>
<line x1="235.1" y1="497.6" x2="243.7" y2="492.2" stroke="#EDEDED" stroke-width="0.9"/>
<line x1="251.8" y1="501.3" x2="260.4" y2="495.9" stroke="#EDEDED" stroke-width="0.9"/>
<line x1="268.6" y1="505.1" x2="277.1" y2="499.7" stroke="#EDEDED" stroke-width="0.9"/>
<line x1="285.5" y1="509.0" x2="294.0" y2="503.5" stroke="#EDEDED" stroke-width="0.9"/>
<line x1="302.5" y1="512.8" x2="311.0" y2="507.3" stroke="#EDEDED" stroke-width="0.9"/>
<line x1="319.6" y1="516.7" x2="328.0" y2="511.1" stroke="#EDEDED" stroke-width="0.9"/>
<line x1="336.8" y1="520.6" x2="345.2" y2="515.0" stroke="#EDEDED" stroke-width="0.9"/>
<line x1="354.1" y1="524.5" x2="362.4" y2="518.9" stroke="#EDEDED" stroke-width="0.9"/>
<line x1="371.5" y1="528.4" x2="379.7" y2="522.8" stroke="#EDEDED" stroke-width="0.9"/>
<line x1="388.9" y1="532.4" x2="397.2" y2="526.7" stroke="#EDEDED" stroke-width="0.9"/>
<line x1="406.5" y1="536.4" x2="414.7" y2="530.7" stroke="#EDEDED" stroke-width="0.9"/>
<line x1="424.2" y1="540.4" x2="432.3" y2="534.6" stroke="#EDEDED" stroke-width="0.9"/>
<line x1="442.0" y1="544.4" x2="450.0" y2="538.6" stroke="#EDEDED" stroke-width="0.9"/>
<line x1="459.8" y1="548.4" x2="467.9" y2="542.6" stroke="#EDEDED" stroke-width="0.9"/>
<line x1="477.8" y1="552.5" x2="485.8" y2="546.7" stroke="#EDEDED" stroke-width="0.9"/>
<line x1="495.9" y1="556.6" x2="503.8" y2="550.7" stroke="#EDEDED" stroke-width="0.9"/>
<polygon points="177.6,484.2 193.9,477.4 210.5,491.7 210.5,491.7 177.6,484.2" fill="#A5A5A5" stroke="#A5A5A5" stroke-width="0.4" stroke-linejoin="round"/>
<polygon points="92.4,481.5 108.5,485.2 124.8,488.9 141.1,492.7 157.5,496.4 174.0,500.2 190.6,504.0 207.3,507.8 224.0,511.7 240.9,515.5 257.8,519.4 274.9,523.3 292.0,527.2 309.3,531.2 326.6,535.1 344.0,539.1 361.6,543.2 379.2,547.2 396.9,551.2 414.7,555.3 432.7,559.4 440.1,554.1 422.3,550.0 404.5,546.0 386.8,541.9 369.2,537.9 351.7,533.9 334.3,530.0 317.0,526.0 299.8,522.1 282.7,518.2 265.7,514.3 248.8,510.5 232.0,506.6 215.2,502.8 198.6,499.0 182.1,495.3 165.6,491.5 149.2,487.8 132.9,484.1 116.7,480.4 100.6,476.7" fill="#B96226"/>
<polygon points="432.7,559.4 450.7,561.1 458.2,555.7 440.1,554.1" fill="#AF5C24" stroke="#AF5C24" stroke-width="0.4"/>
<polygon points="450.7,561.1 468.9,564.7 476.3,559.3 458.2,555.7" fill="#B76026" stroke="#B76026" stroke-width="0.4"/>
<polygon points="468.9,564.7 487.1,571.3 494.4,565.8 476.3,559.3" fill="#C06528" stroke="#C06528" stroke-width="0.4"/>
<line x1="100.0" y1="483.6" x2="109.1" y2="478.3" stroke="#EDEDED" stroke-width="0.9"/>
<line x1="116.2" y1="487.3" x2="125.2" y2="482.0" stroke="#EDEDED" stroke-width="0.9"/>
<line x1="132.5" y1="491.0" x2="141.5" y2="485.7" stroke="#EDEDED" stroke-width="0.9"/>
<line x1="148.9" y1="494.8" x2="157.8" y2="489.4" stroke="#EDEDED" stroke-width="0.9"/>
<line x1="165.3" y1="498.5" x2="174.2" y2="493.1" stroke="#EDEDED" stroke-width="0.9"/>
<line x1="181.9" y1="502.3" x2="190.7" y2="496.9" stroke="#EDEDED" stroke-width="0.9"/>
<line x1="198.5" y1="506.1" x2="207.3" y2="500.7" stroke="#EDEDED" stroke-width="0.9"/>
<line x1="215.2" y1="510.0" x2="224.0" y2="504.5" stroke="#EDEDED" stroke-width="0.9"/>
<line x1="232.0" y1="513.8" x2="240.8" y2="508.3" stroke="#EDEDED" stroke-width="0.9"/>
<line x1="249.0" y1="517.7" x2="257.6" y2="512.2" stroke="#EDEDED" stroke-width="0.9"/>
<line x1="266.0" y1="521.6" x2="274.6" y2="516.0" stroke="#EDEDED" stroke-width="0.9"/>
<line x1="283.0" y1="525.5" x2="291.7" y2="519.9" stroke="#EDEDED" stroke-width="0.9"/>
<line x1="300.2" y1="529.5" x2="308.8" y2="523.8" stroke="#EDEDED" stroke-width="0.9"/>
<line x1="317.5" y1="533.4" x2="326.0" y2="527.7" stroke="#EDEDED" stroke-width="0.9"/>
<line x1="334.9" y1="537.4" x2="343.4" y2="531.7" stroke="#EDEDED" stroke-width="0.9"/>
<line x1="352.4" y1="541.4" x2="360.8" y2="535.7" stroke="#EDEDED" stroke-width="0.9"/>
<line x1="370.0" y1="545.4" x2="378.4" y2="539.7" stroke="#EDEDED" stroke-width="0.9"/>
<line x1="387.7" y1="549.5" x2="396.0" y2="543.7" stroke="#EDEDED" stroke-width="0.9"/>
<line x1="405.4" y1="553.6" x2="413.7" y2="547.7" stroke="#EDEDED" stroke-width="0.9"/>
<line x1="423.3" y1="557.6" x2="431.6" y2="551.8" stroke="#EDEDED" stroke-width="0.9"/>
<polygon points="487.1,571.9 494.4,566.5 494.4,565.8 487.1,571.3" fill="#A65822"/>
<polygon points="432.7,559.4 450.7,561.1 468.9,564.7 487.1,571.3 487.1,571.9 432.7,559.4" fill="#ED7D31" stroke="#ED7D31" stroke-width="0.4" stroke-linejoin="round"/>
<polygon points="71.6,493.6 87.8,497.4 104.1,501.2 120.5,505.0 137.0,508.8 153.6,512.7 170.3,516.5 187.0,520.4 203.9,524.3 220.8,528.3 237.9,532.2 255.0,536.2 272.3,540.2 289.6,544.2 307.0,548.2 314.9,543.0 297.5,539.0 280.2,535.0 263.0,531.0 245.9,527.1 228.9,523.1 212.0,519.2 195.2,515.3 178.4,511.5 161.8,507.6 145.2,503.8 128.8,500.0 112.4,496.3 96.1,492.5 79.9,488.8" fill="#4779A6"/>
<polygon points="307.0,548.2 324.3,467.7 332.2,462.6 314.9,543.0" fill="#325575" stroke="#325575" stroke-width="0.4"/>
<polygon points="324.3,467.7 342.2,556.4 350.0,551.1 332.2,462.6" fill="#4475A0" stroke="#4475A0" stroke-width="0.4"/>
<polygon points="342.2,556.4 359.9,560.5 377.8,564.6 395.7,568.8 403.4,563.4 385.5,559.3 367.7,555.1 350.0,551.1" fill="#4779A6"/>
<polygon points="395.7,568.8 414.4,482.3 433.7,365.2 441.5,360.4 422.0,477.1 403.4,563.4" fill="#325575" stroke="#325575" stroke-width="0.4"/>
<polygon points="433.7,365.2 450.1,581.4 457.7,575.9 441.5,360.4" fill="#416E97" stroke="#416E97" stroke-width="0.4"/>
<polygon points="450.1,581.4 468.5,585.7 476.0,580.1 457.7,575.9" fill="#4779A6"/>
<line x1="79.2" y1="495.8" x2="88.4" y2="490.4" stroke="#EDEDED" stroke-width="0.9"/>
<line x1="95.5" y1="499.5" x2="104.7" y2="494.1" stroke="#EDEDED" stroke-width="0.9"/>
<line x1="111.9" y1="503.3" x2="121.0" y2="497.9" stroke="#EDEDED" stroke-width="0.9"/>
<line x1="128.3" y1="507.1" x2="137.4" y2="501.7" stroke="#EDEDED" stroke-width="0.9"/>
<line x1="144.9" y1="511.0" x2="153.9" y2="505.5" stroke="#EDEDED" stroke-width="0.9"/>
<line x1="161.5" y1="514.8" x2="170.5" y2="509.3" stroke="#EDEDED" stroke-width="0.9"/>
<line x1="178.2" y1="518.7" x2="187.2" y2="513.2" stroke="#EDEDED" stroke-width="0.9"/>
<line x1="195.0" y1="522.6" x2="204.0" y2="517.0" stroke="#EDEDED" stroke-width="0.9"/>
<line x1="211.9" y1="526.5" x2="220.8" y2="520.9" stroke="#EDEDED" stroke-width="0.9"/>
<line x1="228.9" y1="530.5" x2="237.8" y2="524.8" stroke="#EDEDED" stroke-width="0.9"/>
<line x1="246.0" y1="534.4" x2="254.8" y2="528.8" stroke="#EDEDED" stroke-width="0.9"/>
<line x1="263.2" y1="538.4" x2="272.0" y2="532.7" stroke="#EDEDED" stroke-width="0.9"/>
<line x1="280.5" y1="542.4" x2="289.2" y2="536.7" stroke="#EDEDED" stroke-width="0.9"/>
<line x1="297.9" y1="546.5" x2="306.6" y2="540.7" stroke="#EDEDED" stroke-width="0.9"/>
<line x1="350.7" y1="558.7" x2="359.2" y2="552.8" stroke="#EDEDED" stroke-width="0.9"/>
<line x1="368.5" y1="562.8" x2="376.9" y2="556.9" stroke="#EDEDED" stroke-width="0.9"/>
<line x1="386.3" y1="567.0" x2="394.8" y2="561.0" stroke="#EDEDED" stroke-width="0.9"/>
<line x1="458.9" y1="583.8" x2="467.2" y2="577.7" stroke="#EDEDED" stroke-width="0.9"/>
<polygon points="307.0,548.2 324.3,467.7 342.2,556.4 342.2,556.4 307.0,548.2" fill="#5B9BD5" stroke="#5B9BD5" stroke-width="0.4" stroke-linejoin="round"/>
<polygon points="395.7,568.8 414.4,482.3 433.7,365.2 450.1,581.4 450.1,581.4 395.7,568.8" fill="#5B9BD5" stroke="#5B9BD5" stroke-width="0.4" stroke-linejoin="round"/>
<g font-family="'Liberation Sans', sans-serif"><text x="46.1" y="499.4" font-size="11" fill="#595959" text-anchor="end">0</text>
<text x="44.2" y="440.3" font-size="11" fill="#595959" text-anchor="end">50</text>
<text x="42.3" y="380.4" font-size="11" fill="#595959" text-anchor="end">100</text>
<text x="40.4" y="319.8" font-size="11" fill="#595959" text-anchor="end">150</text>
<text x="38.4" y="258.3" font-size="11" fill="#595959" text-anchor="end">200</text>
<text x="36.4" y="196.1" font-size="11" fill="#595959" text-anchor="end">250</text>
<text x="65.2" y="517.8" font-size="11" fill="#595959" text-anchor="middle">10</text>
<text x="81.5" y="521.6" font-size="11" fill="#595959" text-anchor="middle">11</text>
<text x="97.8" y="525.4" font-size="11" fill="#595959" text-anchor="middle">12</text>
<text x="114.2" y="529.2" font-size="11" fill="#595959" text-anchor="middle">13</text>
<text x="130.8" y="533.1" font-size="11" fill="#595959" text-anchor="middle">14</text>
<text x="147.4" y="536.9" font-size="11" fill="#595959" text-anchor="middle">15</text>
<text x="164.1" y="540.8" font-size="11" fill="#595959" text-anchor="middle">16</text>
<text x="180.9" y="544.7" font-size="11" fill="#595959" text-anchor="middle">17</text>
<text x="197.8" y="548.7" font-size="11" fill="#595959" text-anchor="middle">18</text>
<text x="214.7" y="552.6" font-size="11" fill="#595959" text-anchor="middle">19</text>
<text x="231.8" y="556.6" font-size="11" fill="#595959" text-anchor="middle">20</text>
<text x="249.0" y="560.6" font-size="11" fill="#595959" text-anchor="middle">9</text>
<text x="266.3" y="564.6" font-size="11" fill="#595959" text-anchor="middle">10</text>
<text x="283.6" y="568.7" font-size="11" fill="#595959" text-anchor="middle">11</text>
<text x="301.1" y="572.7" font-size="11" fill="#595959" text-anchor="middle">12</text>
<text x="318.7" y="576.8" font-size="11" fill="#595959" text-anchor="middle">13</text>
<text x="336.3" y="580.9" font-size="11" fill="#595959" text-anchor="middle">14</text>
<text x="354.1" y="585.0" font-size="11" fill="#595959" text-anchor="middle">15</text>
<text x="372.0" y="589.2" font-size="11" fill="#595959" text-anchor="middle">16</text>
<text x="389.9" y="593.4" font-size="11" fill="#595959" text-anchor="middle">17</text>
<text x="408.0" y="597.6" font-size="11" fill="#595959" text-anchor="middle">18</text>
<text x="426.2" y="601.8" font-size="11" fill="#595959" text-anchor="middle">19</text>
<text x="444.5" y="606.1" font-size="11" fill="#595959" text-anchor="middle">22</text>
<text x="462.8" y="610.4" font-size="11" fill="#595959" text-anchor="middle">23</text>
<text x="147.0" y="563.0" font-size="11" fill="#595959" text-anchor="middle">4/5/2015</text>
<text x="354.0" y="612.0" font-size="11" fill="#595959" text-anchor="middle">5/5/2015</text>
<text x="494.9" y="589.3" font-size="11" fill="#595959">admin</text>
<text x="513.6" y="574.8" font-size="11" fill="#595959">editor</text>
<text x="531.4" y="561.2" font-size="11" fill="#595959">esricis_admin</text>
<text x="549.4" y="548.0" font-size="11" fill="#595959">guest</text>
<text x="567.1" y="534.9" font-size="11" fill="#595959">m.ebner</text>
<text x="583.9" y="522.1" font-size="11" fill="#595959">swarovski</text>
<text x="600.9" y="509.6" font-size="11" fill="#595959">syn_user_admin</text>
<text x="618.5" y="497.2" font-size="11" fill="#595959">weboffice</text>
<text x="634.5" y="485.0" font-size="11" fill="#595959">wo_admin</text>
<text x="650.2" y="473.1" font-size="11" fill="#595959">wo_webgis</text>
<text x="664.3" y="461.4" font-size="11" fill="#595959">(blank)</text>
<rect x="780" y="259.0" width="6" height="6" fill="#5B9BD5"/>
<text x="789.2" y="265.2" font-size="11" fill="#595959">admin</text>
<rect x="780" y="281.5" width="6" height="6" fill="#ED7D31"/>
<text x="789.2" y="287.7" font-size="11" fill="#595959">editor</text>
<rect x="780" y="304.0" width="6" height="6" fill="#A5A5A5"/>
<text x="789.2" y="310.2" font-size="11" fill="#595959">esricis_admin</text>
<rect x="780" y="326.5" width="6" height="6" fill="#FFC000"/>
<text x="789.2" y="332.7" font-size="11" fill="#595959">guest</text>
<rect x="780" y="349.0" width="6" height="6" fill="#4472C4"/>
<text x="789.2" y="355.2" font-size="11" fill="#595959">m.ebner</text>
<rect x="780" y="371.5" width="6" height="6" fill="#70AD47"/>
<text x="789.2" y="377.7" font-size="11" fill="#595959">swarovski</text>
<rect x="780" y="394.0" width="6" height="6" fill="#255E91"/>
<text x="789.2" y="400.2" font-size="11" fill="#595959">syn_user_admin</text>
<rect x="780" y="416.5" width="6" height="6" fill="#9E480E"/>
<text x="789.2" y="422.7" font-size="11" fill="#595959">weboffice</text>
<rect x="780" y="439.0" width="6" height="6" fill="#636363"/>
<text x="789.2" y="445.2" font-size="11" fill="#595959">wo_admin</text>
<rect x="780" y="461.5" width="6" height="6" fill="#997300"/>
<text x="789.2" y="467.7" font-size="11" fill="#595959">wo_webgis</text>
<rect x="780" y="484.0" width="6" height="6" fill="#264478"/>
<text x="789.2" y="490.2" font-size="11" fill="#595959">(blank)</text>
<rect x="11.5" y="8.5" width="102" height="17" rx="3.5" ry="3.5" fill="url(#bg)" stroke="#BBBBBB" stroke-width="1"/>
<text x="15.5" y="21.0" font-size="11.5" fill="#1A1A1A" textLength="94" lengthAdjust="spacingAndGlyphs">Count of REQUEST</text>
<rect x="11.5" y="704.5" width="60" height="17" rx="3.5" ry="3.5" fill="url(#bg)" stroke="#BBBBBB" stroke-width="1"/>
<text x="15.5" y="717.0" font-size="11.5" fill="#1A1A1A" textLength="25.5" lengthAdjust="spacingAndGlyphs">DATE</text>
<polygon points="52,714 57,714 54.5,716.5" fill="#333"/>
<polygon points="54,706 70,706 63.6,712.5 63.6,719.5 60.4,719.5 60.4,712.5" fill="#777"/>
<rect x="74.5" y="704.5" width="54" height="17" rx="3.5" ry="3.5" fill="url(#bg)" stroke="#BBBBBB" stroke-width="1"/>
<text x="77.5" y="717.0" font-size="11.5" fill="#1A1A1A" textLength="31" lengthAdjust="spacingAndGlyphs">HOUR</text>
<polygon points="117,711.3 124,711.3 120.5,715.2" fill="#333"/>
<rect x="775.5" y="233.5" width="100" height="17" rx="3.5" ry="3.5" fill="url(#bg)" stroke="#BBBBBB" stroke-width="1"/>
<text x="779.6" y="246.0" font-size="11.5" fill="#1A1A1A" textLength="26" lengthAdjust="spacingAndGlyphs">USER</text>
<polygon points="864,240.3 871,240.3 867.5,244.2" fill="#333"/>
<rect x="0.5" y="0.5" width="885" height="730" fill="none" stroke="#D9D9D9" stroke-width="1"/></g>
</svg>
</body></html>
